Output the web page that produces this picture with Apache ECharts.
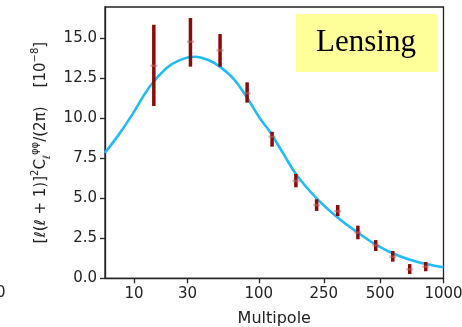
<!DOCTYPE html>
<html><head><meta charset="utf-8">
<script src="https://cdn.jsdelivr.net/npm/echarts@6/dist/echarts.min.js"></script>
<style>html,body{margin:0;padding:0;background:#fff}#c{width:462px;height:327px}</style>
</head><body><div id="c"></div>
<script>
// Multipole values of the measured band powers
const binL = [15.4, 31.7, 53.6, 83.4, 122, 171.6, 227.5, 299, 384, 475, 578, 698, 830];
const binCenter = [13.29, 14.79, 14.25, 11.56, 8.85, 6.08, 4.58, 4.19, 2.85, 2.06, 1.35, 0.56, 0.73];
const binLow = [10.77, 13.23, 13.23, 10.98, 8.23, 5.69, 4.21, 3.89, 2.44, 1.71, 1.04, 0.27, 0.44];
const binHigh = [15.85, 16.27, 15.27, 12.25, 9.16, 6.52, 4.94, 4.58, 3.29, 2.39, 1.71, 0.89, 1.02];
// Theory curve
const curveL = [5, 7.17, 9.78, 14.1, 19.9, 25.9, 34.3, 44.9, 53.4, 66.6, 82.6, 101.6, 118, 143.3, 173.3, 227.5, 295, 378, 480, 604, 753, 1000];
const curveV = [7.85, 9.06, 10.31, 11.98, 13.13, 13.64, 13.85, 13.6, 13.23, 12.5, 11.35, 10.0, 9.16, 7.81, 6.46, 5.0, 3.85, 2.91, 2.08, 1.46, 1.04, 0.69];
const xTicks = [10, 30, 100, 250, 500, 1000];
const yTicks = [0, 2.5, 5, 7.5, 10, 12.5, 15];

const P = 0.17;
const tf = v => Math.pow(v, P);
const inv = t => Math.pow(t, 1 / P);

const chart = echarts.init(document.getElementById('c'), null, {renderer: 'canvas'});
const font = 'DejaVu Sans';
chart.setOption({
  animation: false,
  backgroundColor: '#fff',
  grid: {left: 105, right: 18.5, top: 7, bottom: 48.7, containLabel: false, outerBoundsMode: 'none',
    show: true, borderColor: '#222', borderWidth: 1.3, backgroundColor: 'transparent'},
  xAxis: {
    type: 'value', min: tf(5), max: tf(1000),
    name: 'Multipole', nameLocation: 'middle', nameGap: 33,
    nameTextStyle: {fontFamily: font, fontSize: 16, color: '#222'},
    axisLine: {show: true, lineStyle: {color: '#222', width: 1.3}},
    axisTick: {show: true, length: 5, lineStyle: {color: '#222', width: 1.3}, customValues: xTicks.map(tf)},
    axisLabel: {show: true, margin: 8, fontFamily: font, fontSize: 15, color: '#222', customValues: xTicks.map(tf),
      formatter: v => String(Math.round(inv(v)))},
    splitLine: {show: false}
  },
  yAxis: {
    type: 'value', min: 0, max: 16.96, interval: 2.5,
    name: '{n|[ℓ(ℓ + 1)]}{sp|2}{n|C}{sb|ℓ}{sp|φφ}{n|/(2π)    [10}{sp|−8}{n|]}',
    nameLocation: 'middle', nameGap: 53, nameRotate: 90,
    nameTextStyle: {rich: {
      n: {fontFamily: font, fontSize: 15, color: '#222', lineHeight: 22, verticalAlign: 'middle'},
      sp: {fontFamily: font, fontSize: 10, color: '#222', lineHeight: 22, verticalAlign: 'top'},
      sb: {fontFamily: font, fontSize: 10, color: '#222', lineHeight: 22, verticalAlign: 'bottom'}
    }},
    axisLine: {show: true, lineStyle: {color: '#222', width: 1.3}},
    axisTick: {show: true, length: 5, lineStyle: {color: '#222', width: 1.3}, customValues: yTicks},
    axisLabel: {show: true, margin: 8, fontFamily: font, fontSize: 15, color: '#222', customValues: yTicks,
      formatter: v => v.toFixed(1)},
    splitLine: {show: false}
  },
  series: [
    {
      type: 'line', data: curveL.map((l, i) => [tf(l), curveV[i]]),
      smooth: 0.4, showSymbol: false, clip: true,
      lineStyle: {color: '#21bcf5', width: 2.6}, z: 2
    },
    {
      type: 'custom', z: 3,
      data: binL.map((l, i) => [tf(l), binCenter[i], binLow[i], binHigh[i]]),
      renderItem: (params, api) => {
        const x = api.value(0);
        const a = api.coord([x, api.value(2)]);
        const b = api.coord([x, api.value(3)]);
        const c = api.coord([x, api.value(1)]);
        return {type: 'group', children: [
          {type: 'line', shape: {x1: a[0], y1: a[1], x2: b[0], y2: b[1]}, style: {stroke: '#8b0a0a', lineWidth: 3.5}},
          {type: 'rect', shape: {x: c[0] - 3.5, y: c[1] - 1.2, width: 7, height: 2.4}, style: {fill: 'rgba(190,110,110,0.55)'}}
        ]};
      }
    }
  ],
  graphic: [
    {type: 'rect', shape: {x: 296, y: 14, width: 141, height: 58}, style: {fill: '#ffff99'}, z: 10},
    {type: 'text', x: 366, y: 43, style: {text: 'Lensing', font: '31px "Liberation Serif"', fill: '#000', align: 'center', verticalAlign: 'middle'}, z: 11},
    {type: 'text', x: -4, y: 293, style: {text: '0', font: '15px "DejaVu Sans"', fill: '#222', align: 'left', verticalAlign: 'middle'}, z: 11}
  ]
});
</script></body></html>
